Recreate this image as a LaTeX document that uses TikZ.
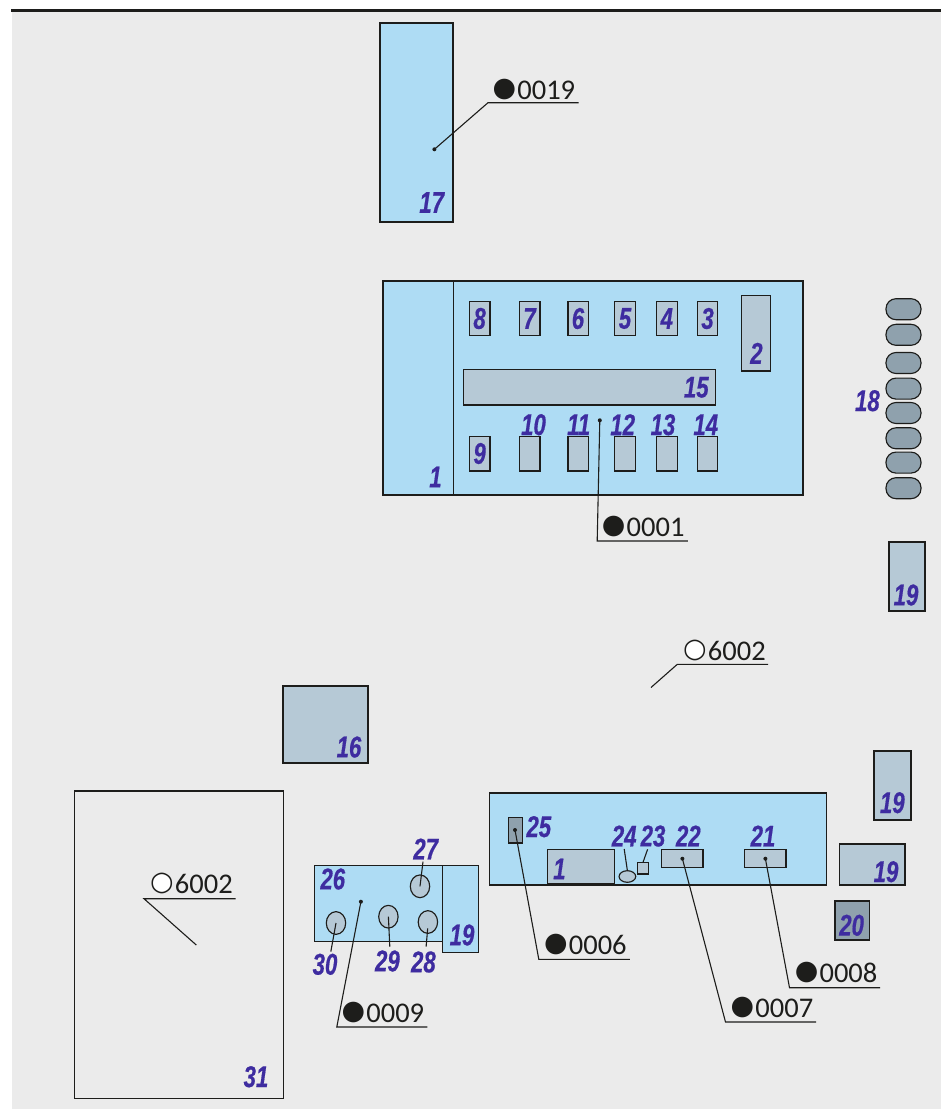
\documentclass[tikz,border=0pt]{standalone}
\usepackage{fontspec}
\setmainfont{Carlito}
\newfontfamily\partfont[FakeStretch=0.74,BoldItalicFeatures={FakeBold=0.5}]{Liberation Sans}
\newfontfamily\markfont{DejaVu Sans}
\usepackage{tikz}
\usetikzlibrary{shapes,positioning,calc}
\definecolor{panel}{HTML}{EBEBEB}
\definecolor{skyblue}{HTML}{AEDCF4}
\definecolor{slate}{HTML}{B6C9D6}
\definecolor{darkslate}{HTML}{8FA1AD}
\definecolor{partblue}{HTML}{3E2CA0}
\definecolor{inkblack}{HTML}{1D1D1B}
\newcommand{\tagdot}{\raisebox{3pt}{\markfont\fontsize{27}{27}\selectfont ●}\kern1.2pt}
\newcommand{\tagring}{\raisebox{3pt}{\markfont\fontsize{27}{27}\selectfont\rlap{\textcolor{white}{●}}○}\kern1.2pt}
\tikzset{
    base/.style={draw=inkblack, line width=1.15pt, rectangle, inner sep=0pt, outer sep=0pt},
    bigbox/.style={base, fill=skyblue},
    unit/.style={base, fill=slate},
    darkunit/.style={base, fill=darkslate},
    pill/.style={base, fill=darkslate, rounded corners=10pt, minimum width=35pt, minimum height=21pt},
    knob/.style={base, ellipse, fill=slate},
    part/.style={inner sep=0pt, text=partblue, font=\fontsize{30}{30}\partfont\bfseries\itshape},
    tag/.style={inner sep=0pt, text=inkblack, font=\fontsize{28.5}{28.5}\selectfont},
    leader/.style={draw=inkblack, line width=1.1pt},
    tip/.style={fill=inkblack}
}
\begin{document}
\begin{tikzpicture}[x=1pt, y=-1pt]
    \useasboundingbox (0,0) rectangle (941,1109);
    % Sheet
    \fill[panel] (12,11) rectangle (941,1109);
    \fill[inkblack] (11,9) rectangle (941,12);

    % Upper cabinet
    \node[bigbox, minimum width=73pt, minimum height=199pt] (b17) at (416.5,122.5) {};
    \node[part] (l17) at (431.7,202.5) {17};

    % Main cabinet
    \node[bigbox, minimum width=420pt, minimum height=214pt] (b1) at (593,388) {};
    \draw[base] (453.8,281) -- (453.8,495);
    \node[part] (l1) at (435.5,477) {1};
    \node[unit, minimum width=20.5pt, minimum height=34.5pt] (b8) at (479.8,318.5) {};
    \node[unit, minimum width=20.5pt, minimum height=34.5pt] (b7) at (529.7,318.5) {};
    \node[unit, minimum width=20.5pt, minimum height=34.5pt] (b6) at (578.3,318.5) {};
    \node[unit, minimum width=20.5pt, minimum height=34.5pt] (b5) at (624.9,318.5) {};
    \node[unit, minimum width=20.5pt, minimum height=34.5pt] (b4) at (667,318.5) {};
    \node[unit, minimum width=20.5pt, minimum height=34.5pt] (b3) at (707.6,318.5) {};
    \node[unit, minimum width=28.5pt, minimum height=75.5pt] (b2) at (756,333.2) {};
    \node[unit, minimum width=252pt, minimum height=35.3pt] (b15) at (589.2,387.3) {};
    \node[unit, minimum width=20.5pt, minimum height=34.5pt] (b9) at (479.8,453.8) {};
    \node[unit, minimum width=20.5pt, minimum height=34.5pt] (b10) at (529.7,453.8) {};
    \node[unit, minimum width=20.5pt, minimum height=34.5pt] (b11) at (578.3,453.8) {};
    \node[unit, minimum width=20.5pt, minimum height=34.5pt] (b12) at (624.9,453.8) {};
    \node[unit, minimum width=20.5pt, minimum height=34.5pt] (b13) at (667,453.8) {};
    \node[unit, minimum width=20.5pt, minimum height=34.5pt] (b14) at (707.6,453.8) {};
    \node[part] (l8) at (479.6,318.5) {8};
    \node[part] (l7) at (529.5,318.5) {7};
    \node[part] (l6) at (578,318.5) {6};
    \node[part] (l5) at (625,318.5) {5};
    \node[part] (l4) at (666.8,318.5) {4};
    \node[part] (l3) at (707.6,318.5) {3};
    \node[part] (l2) at (756.4,353.3) {2};
    \node[part] (l15) at (696.3,387.3) {15};
    \node[part] (l10) at (533.5,424.7) {10};
    \node[part] (l11) at (578.7,424.7) {11};
    \node[part] (l12) at (622.7,424.7) {12};
    \node[part] (l13) at (663,424.7) {13};
    \node[part] (l14) at (705.8,424.7) {14};
    \node[part] (l9) at (479.6,453.5) {9};

    % Pills
    \node[pill] (p1) at (903.5,309.2) {};
    \node[pill] (p2) at (903.5,334.8) {};
    \node[pill] (p3) at (903.5,363) {};
    \node[pill] (p4) at (903.5,388.6) {};
    \node[pill] (p5) at (903.5,413) {};
    \node[pill] (p6) at (903.5,438.3) {};
    \node[pill] (p7) at (903.5,462.6) {};
    \node[pill] (p8) at (903.5,488.2) {};
    \node[part] (l18) at (867.4,400.7) {18};

    % Loose units
    \node[unit, minimum width=36pt, minimum height=69pt] (u19a) at (907,576.5) {};
    \node[part] (l19a) at (906,595) {19};
    \node[unit, minimum width=85pt, minimum height=77pt] (b16) at (325.5,724.5) {};
    \node[part] (l16) at (349,747) {16};
    \node[unit, minimum width=37pt, minimum height=69pt] (u19b) at (892.5,785.5) {};
    \node[part] (l19b) at (892.3,802.7) {19};
    \node[unit, minimum width=65.7pt, minimum height=41pt] (u19c) at (872.2,864.5) {};
    \node[part] (l19c) at (886,871.7) {19};
    \node[darkunit, minimum width=34.8pt, minimum height=39pt] (b20) at (852.4,920.5) {};
    \node[part] (l20) at (851.6,925.3) {20};

    % Control desk
    \node[bigbox, minimum width=337.3pt, minimum height=92pt] (desk) at (658,839) {};
    \node[darkunit, minimum width=14.2pt, minimum height=25.7pt] (b25) at (515.5,830.2) {};
    \node[unit, minimum width=67.2pt, minimum height=33.6pt] (d1) at (581.1,866.5) {};
    \node[base, ellipse, fill=slate, minimum width=16.7pt, minimum height=11.6pt] (b24) at (627.4,876.5) {};
    \node[unit, minimum width=11.5pt, minimum height=11.7pt] (b23) at (643,868.2) {};
    \node[unit, minimum width=41.2pt, minimum height=18pt] (b22) at (682.4,858.7) {};
    \node[unit, minimum width=41.2pt, minimum height=18pt] (b21) at (765.4,858.7) {};
    \node[part] (l25) at (538.8,826.7) {25};
    \node[part] (ld1) at (559.4,869) {1};
    \node[part] (l24) at (624.2,836) {24};
    \node[part] (l23) at (653,836) {23};
    \node[part] (l22) at (688.3,836) {22};
    \node[part] (l21) at (763,836) {21};
    \coordinate (t24) at (624.2,849);
    \coordinate (t23) at (647.6,849.3);
    \draw[leader] (t24) -- (b24.north);
    \draw[leader] (t23) -- (b23.north);

    % Small console
    \node[bigbox, minimum width=128.1pt, minimum height=76pt] (b26) at (378.2,903.7) {};
    \node[bigbox, minimum width=36.4pt, minimum height=86.6pt] (u19d) at (460.5,909) {};
    \node[part] (l19d) at (462,935) {19};
    \node[part] (l26) at (332.8,879) {26};
    \node[knob, minimum width=19.4pt, minimum height=22.7pt] (b27) at (420,886.3) {};
    \node[knob, minimum width=19.4pt, minimum height=22.7pt] (b28) at (427.9,922) {};
    \node[knob, minimum width=19.4pt, minimum height=22.7pt] (b29) at (388.4,916.7) {};
    \node[knob, minimum width=19.4pt, minimum height=22.7pt] (b30) at (336,923) {};
    \node[part] (l27) at (425.7,849) {27};
    \node[part] (l28) at (423.4,962) {28};
    \node[part] (l29) at (387.4,961) {29};
    \node[part] (l30) at (325,964.3) {30};
    \coordinate (t27) at (423,861.7);
    \coordinate (t28) at (426.1,946.7);
    \coordinate (s28) at (427.7,928.3);
    \coordinate (t29) at (389.8,946.7);
    \coordinate (t30) at (330.8,951.7);
    \draw[leader] (t27) -- (b27.center);
    \draw[leader] (t28) -- (s28);
    \draw[leader] (t29) -- (b29.center);
    \draw[leader] (t30) -- (b30.center);

    % Outline room
    \node[base, minimum width=209pt, minimum height=307.5pt] (b31) at (178.8,944.8) {};
    \node[part] (l31) at (256,1076.7) {31};

    % Callouts
    \node[tag, anchor=base west] (c19) at (492.4,99) {\tagdot 0019};
    \node[tag, anchor=base west] (c01) at (601.7,536.7) {\tagdot 0001};
    \node[tag, anchor=base west] (c06) at (543.9,954) {\tagdot 0006};
    \node[tag, anchor=base west] (c07) at (730.5,1017.3) {\tagdot 0007};
    \node[tag, anchor=base west] (c08) at (794.6,982.3) {\tagdot 0008};
    \node[tag, anchor=base west] (c09) at (341.4,1022.3) {\tagdot 0009};
    \node[tag, anchor=base west] (c62a) at (683,660) {\tagring 6002};
    \node[tag, anchor=base west] (c62b) at (150,893.3) {\tagring 6002};

    % Leaders
    \coordinate (d19) at (434.4,149.3);
    \coordinate (k19) at (488,102.7);
    \coordinate (e19) at (578.6,102.7);
    \coordinate (d01) at (599.8,420.3);
    \coordinate (k01) at (597.2,541);
    \coordinate (e01) at (687.9,541);
    \coordinate (d06) at (515,830);
    \coordinate (k06) at (538.8,959.3);
    \coordinate (e06) at (629.8,959.3);
    \coordinate (d07) at (682.4,858.7);
    \coordinate (k07) at (725.5,1022);
    \coordinate (e07) at (816,1022);
    \coordinate (d08) at (765.4,858.7);
    \coordinate (k08) at (789.5,987.7);
    \coordinate (e08) at (880,987.7);
    \coordinate (d09) at (360.9,901.7);
    \coordinate (k09) at (336.8,1027);
    \coordinate (e09) at (427.3,1027);
    \coordinate (d62a) at (651,687.5);
    \coordinate (k62a) at (677.3,664.3);
    \coordinate (e62a) at (768,664.3);
    \coordinate (d62b) at (196.3,945);
    \coordinate (k62b) at (144,898.7);
    \coordinate (e62b) at (235.7,898.7);
    \draw[leader] (d19) -- (k19) -- (e19);
    \draw[leader] (d01) -- (k01) -- (e01);
    \draw[leader] (d06) -- (k06) -- (e06);
    \draw[leader] (d07) -- (k07) -- (e07);
    \draw[leader] (d08) -- (k08) -- (e08);
    \draw[leader] (d09) -- (k09) -- (e09);
    \draw[leader] (d62a) -- (k62a) -- (e62a);
    \draw[leader] (d62b) -- (k62b) -- (e62b);
    \fill[tip] (d19) circle (2pt);
    \fill[tip] (d01) circle (2pt);
    \fill[tip] (d06) circle (2pt);
    \fill[tip] (d07) circle (2pt);
    \fill[tip] (d08) circle (2pt);
    \fill[tip] (d09) circle (2pt);
\end{tikzpicture}
\end{document}
